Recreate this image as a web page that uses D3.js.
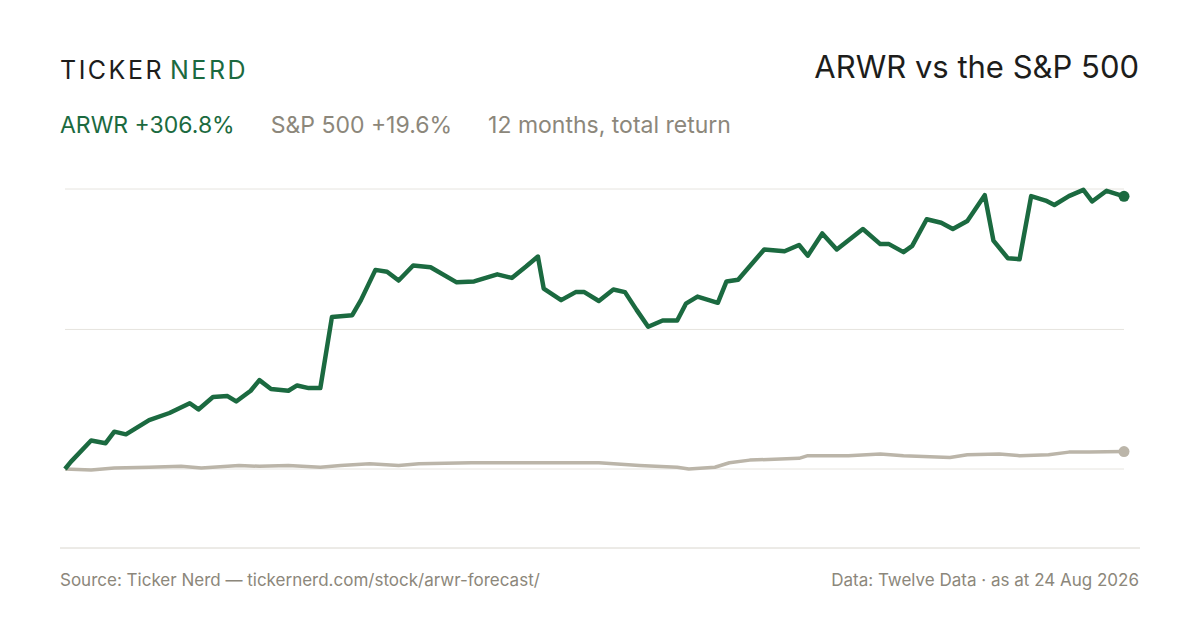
<!DOCTYPE html>
<html><head><meta charset="utf-8">
<script src="https://cdn.jsdelivr.net/npm/d3@7"></script>
<style>
body{margin:0;background:#fff;}
text{font-family:Inter,"Noto Sans",sans-serif;}
</style></head>
<body><div class="chart"></div>
<script>
// day offsets and % return
const arwrDays = [0,2,9,14,17,21,29,36,43,46,51,56,59,64,67,71,77,80,84,88,92,99,102,107,111,115,120,126,135,141,149,154,159,163,165,171,176,179,184,189,193,197,201,206,211,214,218,225,228,232,241,248,253,256,261,266,275,281,284,289,292,297,302,306,311,317,320,325,329,333,338,341,346,351,354,359,365];
const arwrPct = [0,8,32,29,42,39,55,63,74,67,81,82,76,88,100,90,88,94,91,91,171,173,190,224,222,212,229,227,210,211,219,215,228,239,203,190,199,199,189,202,199,179,160,167,167,186,194,187,211,213,247,245,252,240,265,247,270,253,253,244,251,281,277,270,279,308,257,237,236,307,302,297,307,314,301,313,306.8];
const spxDays = [0,9,17,29,40,47,60,67,77,88,95,105,115,122,140,157,176,184,198,211,215,224,229,236,253,256,270,281,289,305,311,322,329,339,346,353,365];
const spxPct = [0,-1,1,2,3,1,4,3,4,2,4,6,4,6,7,7,7,7,4,2,0,2,7,10,12,15,15,17,15,13,16,17,15,16,19,19,19.6];
const gridTicks = [0,157,315];

const width = 1200, height = 630;
const green = "#1b6a40", grey = "#bbb5a9", textGrey = "#8c877b";

const svg = d3.select(".chart").append("svg")
    .attr("width", width).attr("height", height);

const x = d3.scaleLinear().domain([0, 365]).range([65, 1124]);
const y = d3.scaleLinear().domain([0, 315]).range([469, 189]);

svg.selectAll(".grid").data(gridTicks).enter().append("line")
    .attr("x1", 65).attr("x2", 1124)
    .attr("y1", d => y(d)).attr("y2", d => y(d))
    .attr("stroke", "#e6e4df").attr("stroke-width", 1);

svg.append("line").attr("x1", 60).attr("x2", 1140).attr("y1", 548).attr("y2", 548)
    .attr("stroke", "#d9d6ce");

const line = d3.line().x(d => x(d[0])).y(d => y(d[1])).curve(d3.curveLinear);

const spx = d3.zip(spxDays, spxPct);
const arwr = d3.zip(arwrDays, arwrPct);

svg.append("path").attr("d", line(spx)).attr("fill", "none")
    .attr("stroke", grey).attr("stroke-width", 3.5).attr("stroke-linejoin", "round");
svg.append("circle").attr("cx", x(spxDays[spxDays.length-1])).attr("cy", y(spxPct[spxPct.length-1]))
    .attr("r", 5.5).attr("fill", grey);

svg.append("path").attr("d", line(arwr)).attr("fill", "none")
    .attr("stroke", green).attr("stroke-width", 4.5).attr("stroke-linejoin", "round");
svg.append("circle").attr("cx", x(arwrDays[arwrDays.length-1])).attr("cy", y(arwrPct[arwrPct.length-1]))
    .attr("r", 5.5).attr("fill", green);

// header
const logo = svg.append("text").attr("x", 60).attr("y", 79)
    .style("font-size", "25px").style("letter-spacing", "2.5px");
logo.append("tspan").attr("fill", "#1d1d1b").text("TICKER");
logo.append("tspan").attr("fill", green).attr("dx", 6).text("NERD");

svg.append("text").attr("x", 1139).attr("y", 78).attr("text-anchor", "end")
    .style("font-size", "31px").attr("fill", "#1d1d1b").text("ARWR vs the S&P 500");

const sub = svg.append("text").attr("x", 60).attr("y", 133).style("font-size", "23px");
sub.append("tspan").attr("fill", green).text("ARWR +306.8%");
sub.append("tspan").attr("fill", textGrey).attr("dx", 36).text("S&P 500 +19.6%");
sub.append("tspan").attr("fill", textGrey).attr("dx", 36).text("12 months, total return");

svg.append("text").attr("x", 60).attr("y", 586).style("font-size", "17px")
    .attr("fill", textGrey).text("Source: Ticker Nerd — tickernerd.com/stock/arwr-forecast/");
svg.append("text").attr("x", 1139).attr("y", 586).attr("text-anchor", "end").style("font-size", "17px")
    .attr("fill", textGrey).text("Data: Twelve Data · as at 24 Aug 2026");
</script></body></html>
